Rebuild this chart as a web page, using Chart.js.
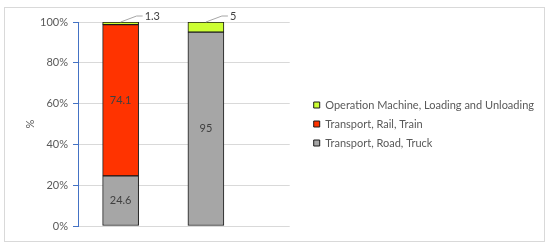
<!DOCTYPE html>
<html>
<head>
<meta charset="utf-8">
<script src="https://cdn.jsdelivr.net/npm/chart.js@4.4.1/dist/chart.umd.min.js"></script>
<style>
  html, body { margin: 0; padding: 0; background: #fff; }
  #wrap { position: relative; width: 550px; height: 247px; }
  #frame { position: absolute; left: 4px; top: 7px; width: 539px; height: 233px; border: 1px solid #d9d9d9; pointer-events: none; }
</style>
</head>
<body>
<div id="wrap">
  <canvas id="chart" width="550" height="247"></canvas>
  <div id="frame"></div>
</div>
<script>
// data
const categories = ['Case 1', 'Case 2'];
const seriesNames = ['Transport, Road, Truck', 'Transport, Rail, Train', 'Operation Machine, Loading and Unloading'];
const roadTruck = [24.6, 95];
const railTrain = [74.1, 0];
const operationMachine = [1.3, 5];
const yTicks = [0, 20, 40, 60, 80, 100];

const colors = ['#a6a6a6', '#ff3300', '#ccff33'];
const FONT = 'Lato';

// bars sit at the middle of each category slot on a linear x scale
const toPoints = arr => arr.map((v, i) => ({ x: i + 0.5, y: v }));

// value labels, small segments get a leader line
const valueLabels = {
  id: 'valueLabels',
  afterDatasetsDraw(chart) {
    const ctx = chart.ctx;
    ctx.save();
    ctx.font = '11px ' + FONT;
    ctx.fillStyle = '#404040';
    ctx.textBaseline = 'middle';
    chart.data.datasets.forEach((ds, di) => {
      const meta = chart.getDatasetMeta(di);
      meta.data.forEach((bar, i) => {
        const v = ds.data[i].y;
        if (!v) return;
        if (v < 10) {
          const x0 = bar.x, y0 = bar.y;
          ctx.strokeStyle = '#a6a6a6';
          ctx.lineWidth = 1;
          ctx.beginPath();
          ctx.moveTo(x0, y0);
          ctx.lineTo(x0 + 16, y0 - 6);
          ctx.lineTo(x0 + 22, y0 - 6);
          ctx.stroke();
          ctx.textAlign = 'left';
          ctx.fillText(String(v), x0 + 24, y0 - 6);
        } else {
          ctx.textAlign = 'center';
          ctx.fillText(String(v), bar.x, (bar.y + bar.base) / 2);
        }
      });
    });
    ctx.restore();
  }
};

const datasets = [roadTruck, railTrain, operationMachine].map((arr, k) => ({
  label: seriesNames[k],
  data: toPoints(arr),
  backgroundColor: colors[k],
  borderColor: '#1a1a1a',
  borderWidth: 1,
  borderSkipped: false,
  barThickness: 36
}));

new Chart(document.getElementById('chart'), {
  type: 'bar',
  data: { datasets },
  plugins: [valueLabels],
  options: {
    responsive: false,
    animation: false,
    layout: { padding: { left: 0, top: 22, bottom: 21, right: 6 } },
    plugins: {
      tooltip: { enabled: false },
      legend: {
        position: 'right',
        reverse: true,
        maxWidth: 300,
        labels: {
          boxWidth: 6,
          boxHeight: 6,
          padding: 8,
          color: '#595959',
          font: { family: FONT, size: 11 }
        }
      }
    },
    scales: {
      x: {
        type: 'linear',
        stacked: true,
        offset: false,
        min: 0,
        max: 2.483,
        display: false
      },
      y: {
        stacked: true,
        min: 0,
        max: 100,
        afterBuildTicks: s => { s.ticks = yTicks.map(v => ({ value: v })); },
        afterFit: s => { s.width = 78; },
        ticks: {
          padding: 5,
          color: '#595959',
          font: { family: FONT, size: 11 },
          callback: v => v + '%'
        },
        grid: { color: '#d9d9d9', tickColor: '#4472c4', tickLength: 5 },
        border: { color: '#4472c4', width: 1 },
        title: {
          display: true,
          text: '%',
          color: '#595959',
          font: { family: FONT, size: 11 },
          padding: { top: 24, bottom: 0 }
        }
      },
      gap: {
        position: 'right',
        display: true,
        afterFit: s => { s.width = 16; },
        ticks: { display: false },
        grid: { display: false },
        border: { display: false }
      }
    }
  }
});
</script>
</body>
</html>
